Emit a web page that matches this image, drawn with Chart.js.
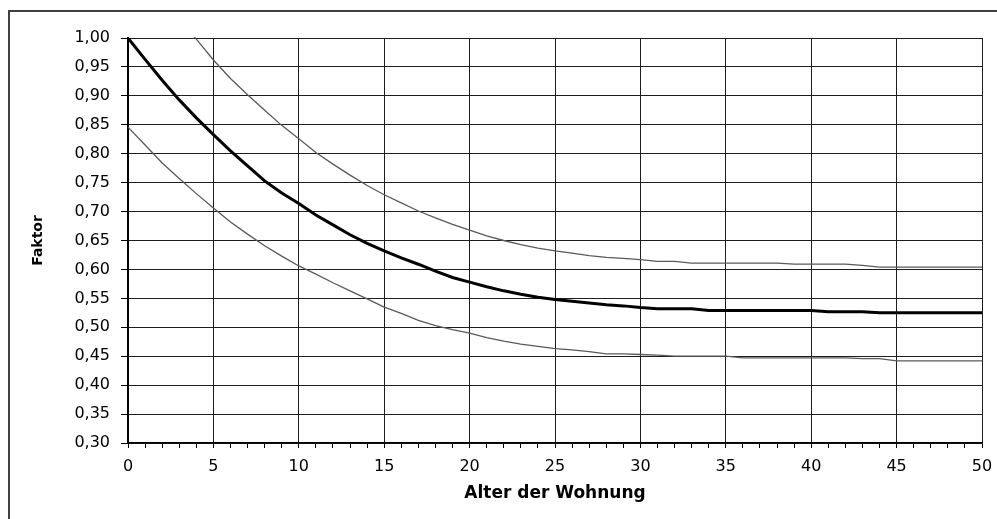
<!DOCTYPE html>
<html>
<head>
<meta charset="utf-8">
<script src="https://cdn.jsdelivr.net/npm/chart.js@4"></script>
<style>
    html, body { margin: 0; padding: 0; background: #fff; }
    #wrap { position: relative; width: 997px; height: 519px; overflow: hidden; }
    #frame {
        position: absolute; left: 8px; top: 10px; width: 1100px; height: 600px;
        border-left: 2px solid #404040; border-top: 2px solid #404040;
    }
    #chart { position: absolute; left: 0; top: 0; }
</style>
</head>
<body>
<div id="wrap">
    <div id="frame"></div>
    <canvas id="chart" width="997" height="519"></canvas>
</div>
<script>
// Alter der Wohnung (Jahre)
const years = [0, 1, 2, 3, 4, 5, 6, 7, 8, 9, 10, 11, 12, 13, 14, 15, 16, 17, 18, 19, 20,
    21, 22, 23, 24, 25, 26, 27, 28, 29, 30, 31, 32, 33, 34, 35, 36, 37, 38, 39, 40,
    41, 42, 43, 44, 45, 46, 47, 48, 49, 50];

// Faktor, mittlere Kurve (dick)
const faktorMitte = [1.000, 0.963, 0.927, 0.893, 0.862, 0.833, 0.805, 0.779, 0.753, 0.732, 0.714,
    0.694, 0.677, 0.660, 0.645, 0.632, 0.620, 0.609, 0.597, 0.586, 0.578,
    0.570, 0.563, 0.557, 0.552, 0.548, 0.545, 0.542, 0.539, 0.537, 0.534,
    0.532, 0.532, 0.532, 0.529, 0.529, 0.529, 0.529, 0.529, 0.529, 0.529,
    0.527, 0.527, 0.527, 0.525, 0.525, 0.525, 0.525, 0.525, 0.525, 0.525];

// obere Grenze (duenn)
const faktorOben = [null, null, null, 1.033, 0.998, 0.962, 0.930, 0.902, 0.875, 0.849, 0.826,
    0.802, 0.782, 0.763, 0.745, 0.729, 0.715, 0.701, 0.689, 0.678, 0.668,
    0.658, 0.650, 0.643, 0.637, 0.632, 0.628, 0.624, 0.621, 0.619, 0.617,
    0.614, 0.614, 0.611, 0.611, 0.611, 0.611, 0.611, 0.611, 0.609, 0.609,
    0.609, 0.609, 0.607, 0.604, 0.604, 0.604, 0.604, 0.604, 0.604, 0.604];

// untere Grenze (duenn)
const faktorUnten = [0.846, 0.815, 0.784, 0.757, 0.731, 0.706, 0.682, 0.661, 0.641, 0.623, 0.606,
    0.592, 0.577, 0.563, 0.549, 0.535, 0.524, 0.512, 0.503, 0.496, 0.490,
    0.482, 0.476, 0.471, 0.467, 0.463, 0.461, 0.458, 0.454, 0.454, 0.453,
    0.452, 0.450, 0.450, 0.450, 0.450, 0.447, 0.447, 0.447, 0.447, 0.447,
    0.447, 0.447, 0.446, 0.446, 0.442, 0.442, 0.442, 0.442, 0.442, 0.442];

const yMin = 0.30, yMax = 1.00, yStep = 0.05;
const xMin = 0, xMax = 50, xLabelStep = 5;

function toPoints(values) {
    return years.map((x, i) => ({ x: x, y: values[i] }));
}

const gridColor = '#1e1e1e';

new Chart(document.getElementById('chart').getContext('2d'), {
    type: 'line',
    data: {
        datasets: [
            {
                label: 'oben',
                data: toPoints(faktorOben),
                borderColor: '#5a5a5a',
                borderWidth: 1.3,
                pointRadius: 0,
                tension: 0,
                clip: 1
            },
            {
                label: 'Faktor',
                data: toPoints(faktorMitte),
                borderColor: '#000',
                borderWidth: 3,
                pointRadius: 0,
                tension: 0
            },
            {
                label: 'unten',
                data: toPoints(faktorUnten),
                borderColor: '#5a5a5a',
                borderWidth: 1.3,
                pointRadius: 0,
                tension: 0,
                clip: 1
            }
        ]
    },
    options: {
        responsive: false,
        animation: false,
        events: [],
        layout: { padding: { left: 0, top: 38, right: 15, bottom: 0 } },
        plugins: {
            legend: { display: false },
            tooltip: { enabled: false }
        },
        scales: {
            x: {
                type: 'linear',
                min: xMin,
                max: xMax,
                afterFit: scale => {
                    scale.height = 76;
                    scale.paddingLeft = 0;
                    scale.paddingRight = 0;
                },
                ticks: {
                    stepSize: 1,
                    autoSkip: false,
                    maxRotation: 0,
                    padding: 9,
                    color: '#000',
                    font: { family: 'DejaVu Sans', size: 16 },
                    callback: v => (v % xLabelStep === 0 ? String(v) : '')
                },
                grid: {
                    color: ctx => (ctx.tick && ctx.tick.value % xLabelStep === 0 ? gridColor : 'rgba(0,0,0,0)'),
                    tickColor: '#000',
                    tickLength: 5,
                    lineWidth: 1
                },
                border: { color: '#000', width: 1.5 },
                title: {
                    display: true,
                    text: 'Alter der Wohnung',
                    color: '#000',
                    font: { family: 'DejaVu Sans', size: 17, weight: 'bold' },
                    padding: { top: 0, bottom: 15 }
                }
            },
            y: {
                min: yMin,
                max: yMax,
                afterFit: scale => { scale.width = 128; },
                ticks: {
                    stepSize: yStep,
                    padding: 11,
                    color: '#000',
                    font: { family: 'DejaVu Sans', size: 16 },
                    callback: v => v.toFixed(2).replace('.', ',')
                },
                grid: {
                    color: gridColor,
                    tickColor: '#000',
                    tickLength: 7,
                    lineWidth: 1
                },
                border: { color: '#000', width: 2 },
                title: {
                    display: true,
                    text: 'Faktor',
                    color: '#000',
                    font: { family: 'DejaVu Sans', size: 14, weight: 'bold' },
                    padding: { top: 30, bottom: 0 }
                }
            }
        }
    }
});
</script>
</body>
</html>
